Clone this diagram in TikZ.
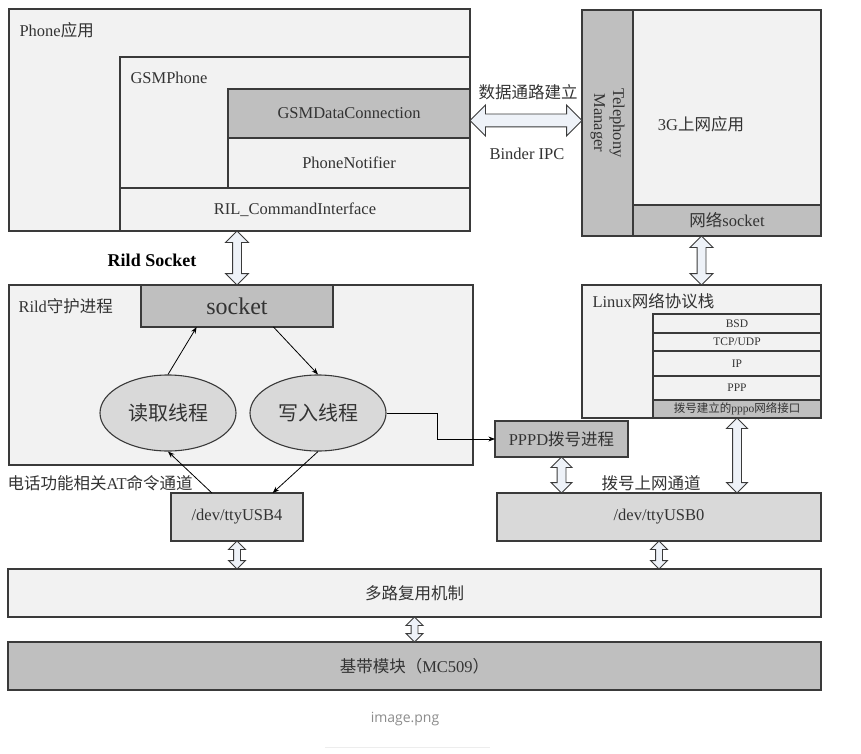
\documentclass[tikz,border=0pt]{standalone}
\usepackage{fontspec}
\setmainfont{Liberation Serif}
\newfontfamily\cjkfont{Noto Sans CJK SC}
\newfontfamily\uifont{Open Sans}
\usetikzlibrary{positioning, arrows.meta, shapes.geometric, shapes.arrows, calc}
\definecolor{boxfill}{HTML}{F2F2F2}
\definecolor{darkfill}{HTML}{BFBFBF}
\definecolor{midfill}{HTML}{D9D9D9}
\definecolor{boxborder}{HTML}{3A3A3A}
\definecolor{labeltext}{HTML}{333333}
\definecolor{pipefill}{HTML}{EEF2F8}

\newcommand{\zh}[1]{{\cjkfont #1}}
% hollow two-headed block arrow between two points
\newcommand{\dblpipe}[4]{%
  \path let \p1=(#1), \p2=(#2),
    \n1={veclen(\x2-\x1,\y2-\y1)}, \n2={atan2(\y2-\y1,\x2-\x1)} in
    node[pipestyle, inner ysep=#3, double arrow head extend=#4,
         minimum height=\n1, rotate=\n2] at ($(#1)!0.5!(#2)$) {};}

\begin{document}
\begin{tikzpicture}[
    x=1pt, y=-1pt,
    >=Stealth,
    txt/.style={font=\fontsize{16.5}{19}\selectfont, text=labeltext},
    box/.style={draw=boxborder, fill=boxfill, line width=1.1pt, inner sep=0pt,
                outer sep=0pt, anchor=north west, txt},
    darkbox/.style={box, fill=darkfill},
    midbox/.style={box, fill=midfill},
    layer/.style={box, minimum width=168pt, font=\fontsize{11.5}{13}\selectfont},
    thread/.style={ellipse, draw=boxborder, fill=midfill, line width=1.1pt,
                   minimum width=136pt, minimum height=76pt, inner sep=0pt,
                   font=\fontsize{20}{22}\selectfont, text=labeltext},
    pipestyle/.style={double arrow, draw=boxborder, fill=pipefill, line width=0.9pt,
                      inner xsep=0pt, outer sep=0pt, minimum width=0pt,
                      double arrow tip angle=90},
    flow/.style={->, line width=0.8pt, black},
]
\useasboundingbox (0,0) rectangle (861,754);
\fill[white] (0,0) rectangle (861,754);

% Phone application
\node[box, minimum width=461pt, minimum height=222pt] (phone) at (9,9) {};
\node[txt, anchor=west] at (16,30) {Phone\zh{应用}};
\node[box, minimum width=350pt, minimum height=174pt] (gsmphone) at (120,57) {};
\node[txt, anchor=west] at (127,78) {GSMPhone};
\node[darkbox, minimum width=242pt, minimum height=49pt] (gsmdc) at (228,89) {GSMDataConnection};
\node[box, minimum width=242pt, minimum height=50pt, below=0pt of gsmdc] (notifier) {PhoneNotifier};
\node[box, minimum width=350pt, minimum height=43pt] (rilcmd) at (120,188) {RIL\_CommandInterface};

% 3G app and telephony manager
\node[box, minimum width=239pt, minimum height=226pt] (app3g) at (582,10) {};
\node[darkbox, minimum width=51pt, minimum height=226pt] (tm) at (582,10) {};
\node[txt, rotate=-90, align=center] at (tm.center) {Telephony\\Manager};
\node[darkbox, minimum width=188pt, minimum height=31pt] (netsock) at (633,205) {\zh{网络}socket};
\node[txt] at (701,124) {3G\zh{上网应用}};

\coordinate (binderL) at ($(gsmdc.east)+(0,7)$);
\coordinate (binderR) at (binderL -| tm.west);
\dblpipe{binderL}{binderR}{6pt}{9pt}
\node[txt] at (528,92) {\zh{数据通路建立}};
\node[txt] at (527,154) {Binder IPC};

% Linux protocol stack
\node[box, minimum width=239pt, minimum height=133pt] (linux) at (582,285) {};
\node[txt, anchor=west] at (589,301) {Linux\zh{网络协议栈}};
\node[layer, minimum height=19pt] (bsd) at (653,314) {BSD};
\node[layer, minimum height=18pt, below=0pt of bsd] (tcp) {TCP/UDP};
\node[layer, minimum height=25pt, below=0pt of tcp] (ip) {IP};
\node[layer, minimum height=24pt, below=0pt of ip] (ppp) {PPP};
\node[layer, fill=darkfill, minimum height=18pt, below=0pt of ppp] (pppo) {\zh{拨号建立的}pppo\zh{网络接口}};
\dblpipe{linux.north}{linux.north |- app3g.south}{4pt}{7pt}

% Rild daemon
\node[box, minimum width=464pt, minimum height=180pt] (rild) at (9,285) {};
\node[txt, anchor=west] at (15,306) {Rild\zh{守护进程}};
\node[darkbox, minimum width=192pt, minimum height=42pt,
      font=\fontsize{24}{26}\selectfont] (socket) at (141,285) {socket};
\node[thread] (reader) at (168,413) {\zh{读取线程}};
\node[thread] (writer) at (318,413) {\zh{写入线程}};
\dblpipe{socket.north}{socket.north |- rilcmd.south}{4pt}{7pt}
\node[txt, font=\fontsize{18}{20}\selectfont\bfseries, text=black] at (152,260) {Rild Socket};

\draw[flow] (reader.north) -- ($(socket.south west)!0.29!(socket.south east)$);
\draw[flow] ($(socket.south west)!0.69!(socket.south east)$) -- (writer.north);

% dial-up
\node[darkbox, minimum width=133pt, minimum height=36pt] (pppd) at (495,421) {PPPD\zh{拨号进程}};
\draw[flow] (writer.east) -- ++(51,0) |- (pppd.west);

% tty channels
\node[midbox, minimum width=132pt, minimum height=48pt] (tty4) at (171,493) {/dev/ttyUSB4};
\node[midbox, minimum width=324pt, minimum height=48pt] (tty0) at (497,493) {/dev/ttyUSB0};
\node[txt, anchor=west] at (4,483) {\zh{电话功能相关}AT\zh{命令通道}};
\node[txt] at (651,483) {\zh{拨号上网通道}};
\draw[flow] ($(tty4.north west)!0.31!(tty4.north east)$) -- (reader.south);
\draw[flow] (writer.south) -- ($(tty4.north west)!0.77!(tty4.north east)$);
\dblpipe{pppd.south}{pppd.south |- tty0.north}{4pt}{6pt}
\dblpipe{pppo.south}{pppo.south |- tty0.north}{4pt}{6pt}

% multiplexer and baseband
\node[box, minimum width=813pt, minimum height=48pt] (mux) at (8,569) {\zh{多路复用机制}};
\node[darkbox, minimum width=813pt, minimum height=48pt] (baseband) at (8,642) {\zh{基带模块（}MC509\zh{）}};
\dblpipe{tty4.south}{tty4.south |- mux.north}{3pt}{5pt}
\dblpipe{tty0.south}{tty0.south |- mux.north}{3pt}{5pt}
\dblpipe{mux.south}{baseband.north}{3pt}{5pt}

\node[font=\uifont\fontsize{14}{16}\selectfont, text=black!45] (caption) at (405,719) {image.png};
\draw[black!7, line width=1pt] (325,747) -- (490,747);
\end{tikzpicture}
\end{document}
